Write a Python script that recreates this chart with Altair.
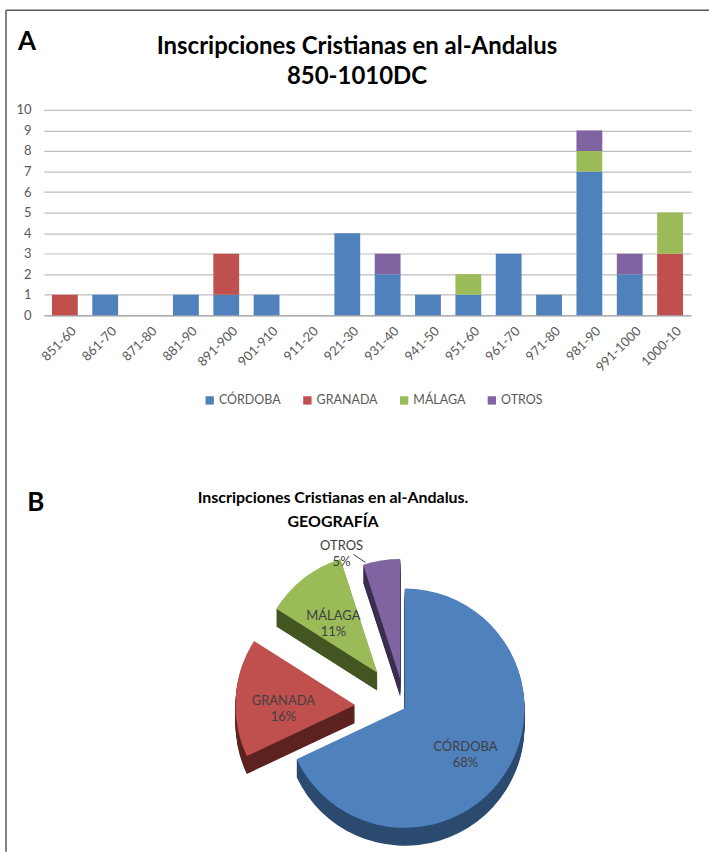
import altair as alt
import pandas as pd

# ---------------- data ----------------
periods = ["851-60", "861-70", "871-80", "881-90", "891-900", "901-910", "911-20",
           "921-30", "931-40", "941-50", "951-60", "961-70", "971-80", "981-90",
           "991-1000", "1000-10"]
cordoba = [0, 1, 0, 1, 1, 1, 0, 4, 2, 1, 1, 3, 1, 7, 2, 0]
granada = [1, 0, 0, 0, 2, 0, 0, 0, 0, 0, 0, 0, 0, 0, 0, 3]
malaga = [0, 0, 0, 0, 0, 0, 0, 0, 0, 0, 1, 0, 0, 1, 0, 2]
otros = [0, 0, 0, 0, 0, 0, 0, 0, 1, 0, 0, 0, 0, 1, 1, 0]
regions = ["CÓRDOBA", "GRANADA", "MÁLAGA", "OTROS"]
pie_pct = [68, 16, 11, 5]

title_a = ["Inscripciones Cristianas en al-Andalus", "850-1010DC"]
title_b = ["Inscripciones Cristianas en al-Andalus.", "GEOGRAFÍA"]

# ---------------- styles ----------------
colors = ["#4F81BD", "#C0504D", "#9BBB59", "#8064A2"]
dark = ["#2B4A70", "#5C2220", "#435520", "#3A2D4E"]
explode = [0, 50, 45, 30]
FONT = "Lato"
TXT = "#595959"

series = [cordoba, granada, malaga, otros]
rows = []
for i, p in enumerate(periods):
    for k, r in enumerate(regions):
        rows.append({"periodo": p, "region": r, "orden": k, "n": series[k][i]})
df = pd.DataFrame(rows)
pie_df = pd.DataFrame({"region": regions, "orden": list(range(len(regions))), "pct": pie_pct})

W, H = 649, 206


def map_expr(vals, quote=True):
    q = "'" if quote else ""
    e = f"{q}{vals[-1]}{q}"
    for r, c in reversed(list(zip(regions[:-1], vals[:-1]))):
        e = f"datum.region == '{r}' ? {q}{c}{q} : ({e})"
    return e


def text_chart(lines, size, weight, x, y0, lh):
    d = pd.DataFrame({"t": lines, "i": list(range(len(lines)))})
    return alt.Chart(d).transform_calculate(yy=f"{y0} + datum.i * {lh}").mark_text(
        font=FONT, fontSize=size, fontWeight=weight, color="#000000", baseline="middle"
    ).encode(text="t:N", x=alt.value(x), y=alt.Y("yy:Q", scale=None))


# ---------------- panel A ----------------
bars = alt.Chart(df).mark_bar().encode(
    x=alt.X("periodo:N", sort=periods,
            scale=alt.Scale(paddingInner=0.36, paddingOuter=0.2),
            axis=alt.Axis(title=None, labelAngle=-45, labelFontSize=13, labelFont=FONT,
                          labelColor=TXT, ticks=False, domainColor="#a0a0a0",
                          labelPadding=9, labelOffset=5, grid=False)),
    y=alt.Y("n:Q", stack="zero", scale=alt.Scale(domain=[0, 10], nice=False),
            axis=alt.Axis(title=None, values=list(range(11)), labelFontSize=13,
                          labelFont=FONT, labelColor=TXT, ticks=False, domain=False,
                          labelPadding=13, gridColor="#bdbdbd", gridWidth=1.2)),
    color=alt.Color("region:N", sort=regions,
                    scale=alt.Scale(domain=regions, range=colors),
                    legend=alt.Legend(title=None, orient="none", legendX=160, legendY=285,
                                      direction="horizontal", symbolType="square",
                                      symbolSize=70, symbolStrokeWidth=0,
                                      labelFontSize=12.5, labelFont=FONT, labelColor=TXT,
                                      columnPadding=20, labelOffset=3)),
    order=alt.Order("orden:Q"),
)

one = pd.DataFrame({"t": ["A"]})
letterA = alt.Chart(one).mark_text(font=FONT, fontSize=26, fontWeight="bold",
                                   color="#000000").encode(
    text="t:N", x=alt.value(-17), y=alt.value(-68))
frame_top = alt.Chart(one).mark_rule(color="#5a5a5a", strokeWidth=1.5).encode(
    x=alt.value(-38), x2=alt.value(667), y=alt.value(-100))
frame_left = alt.Chart(one).mark_rule(color="#5a5a5a", strokeWidth=1.5).encode(
    x=alt.value(-38), y=alt.value(-100), y2=alt.value(744))
titleA = text_chart(title_a, 24, "bold", 314, -63, 30)

panelA = alt.layer(frame_top, frame_left, bars, letterA, titleA).properties(
    width=W, height=H)

# ---------------- panel B ----------------
CX, CY, R, DEPTH = 362, 168, 120, 18

pie = (alt.Chart(pie_df)
       .transform_window(end="sum(pct)", sort=[alt.SortField("orden")], frame=[None, 0])
       .transform_joinaggregate(gran="sum(pct)")
       .transform_calculate(
           start="datum.end - datum.pct",
           mid="(datum.end - datum.pct / 2) / datum.gran * 2 * PI",
           boom=map_expr(explode, quote=False),
       )
       .transform_calculate(
           cx=f"{CX} + datum.boom * sin(datum.mid)",
           cy=f"{CY} - datum.boom * cos(datum.mid)",
           top=map_expr(colors),
           side=map_expr(dark),
       ))

theta = alt.Theta("start:Q", stack=None, scale=alt.Scale(domain=[0, 100], range=[0, 6.283185307]))
theta2 = alt.Theta2("end:Q")

sides = (pie.transform_calculate(k=f"sequence(1, {DEPTH + 1})")
         .transform_flatten(["k"])
         .transform_calculate(yy="datum.cy + datum.k")
         .mark_arc(radius=R)
         .encode(x=alt.X("cx:Q", scale=None), y=alt.Y("yy:Q", scale=None),
                 theta=theta, theta2=theta2, color=alt.Color("side:N", scale=None)))

tops = pie.mark_arc(radius=R).encode(
    x=alt.X("cx:Q", scale=None), y=alt.Y("cy:Q", scale=None),
    theta=theta, theta2=theta2, color=alt.Color("top:N", scale=None))

labels = (pie.transform_calculate(
              label="datum.region + '\\n' + datum.pct + '%'",
              lx=f"datum.region == '{regions[3]}' ? datum.cx + {R} * sin(datum.mid) - 40 : datum.cx + {0.6 * R} * sin(datum.mid)",
              ly=f"datum.region == '{regions[3]}' ? datum.cy - {R} * cos(datum.mid) - 14 : datum.cy - {0.6 * R} * cos(datum.mid)")
          .mark_text(font=FONT, fontSize=13, color="#404040", lineBreak="\n", lineHeight=16)
          .encode(x=alt.X("lx:Q", scale=None), y=alt.Y("ly:Q", scale=None), text="label:N"))

leader = (pie.transform_filter(f"datum.region == '{regions[3]}'")
          .transform_calculate(
              ax=f"datum.cx + {R} * sin(datum.mid) - 28",
              ay=f"datum.cy - {R} * cos(datum.mid) - 6",
              bx=f"datum.cx + {R} * sin(datum.mid) - 16",
              by=f"datum.cy - {R} * cos(datum.mid) + 2")
          .mark_rule(color="#404040", strokeWidth=1)
          .encode(x=alt.X("ax:Q", scale=None), y=alt.Y("ay:Q", scale=None),
                  x2="bx:Q", y2="by:Q"))

letterB = alt.Chart(pd.DataFrame({"t": ["B"]})).mark_text(
    font=FONT, fontSize=26, fontWeight="bold", color="#000000").encode(
    text="t:N", x=alt.value(-8), y=alt.value(-38))
titleB = text_chart(title_b, 16, "bold", 290, -43, 24)

panelB = alt.layer(sides, tops, labels, leader, letterB, titleB).properties(
    width=W, height=290)

chart = alt.vconcat(panelA, panelB, spacing=226, bounds="flush").properties(
    padding={"left": 5, "top": 8, "right": 0, "bottom": 0},
    background="white",
).configure_view(stroke=None)

chart.save("out.html", embed_options={"renderer": "svg", "actions": False})
